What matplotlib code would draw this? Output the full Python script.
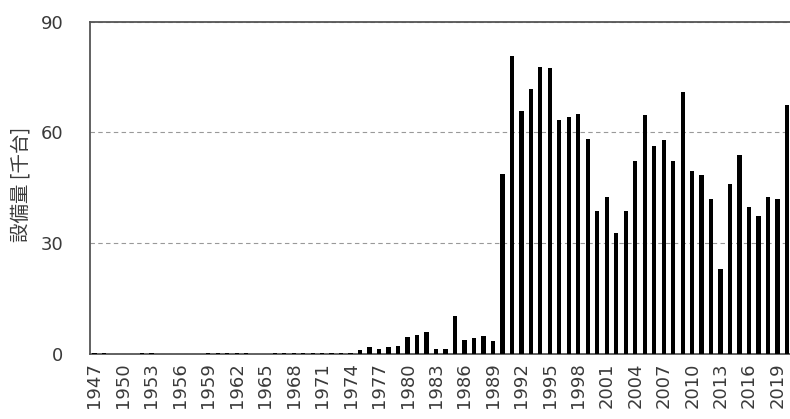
import matplotlib
matplotlib.use("Agg")
import matplotlib.pyplot as plt

years = list(range(1947, 2021))
values = [
    0.3, 0.3, 0, 0, 0, 0.3, 0.3, 0, 0, 0, 0, 0,          # 1947-1958
    0.3, 0.3, 0.3, 0.3, 0.3, 0, 0,                       # 1959-1965
    0.3, 0.3, 0.3, 0.3, 0.3, 0.3, 0.3, 0.3, 0.3,         # 1966-1974
    1.0, 1.9, 1.4, 1.9, 2.3, 4.5, 5.2, 6.0, 1.4, 1.4,    # 1975-1984
    10.2, 3.9, 4.2, 4.8, 3.6,                            # 1985-1989
    48.7, 80.6, 65.9, 71.7, 77.7, 77.4, 63.3, 64.2, 65.0, 58.3,  # 1990-1999
    38.8, 42.6, 32.9, 38.8, 52.3, 64.7, 56.3, 58.0, 52.3, 70.9,  # 2000-2009
    49.5, 48.4, 41.9, 23.0, 46.1, 54.0, 39.9, 37.4, 42.6, 41.9,  # 2010-2019
    67.5,                                                # 2020
]
xticks = list(range(1947, 2021, 3))
yticks = [0, 30, 60, 90]
ylabel = "設備量 [千台]"

W, H = 790, 419
fig = plt.figure(figsize=(W / 100, H / 100), dpi=100)
ax = fig.add_axes([89.7 / W, (H - 354) / H, (791 - 89.7) / W, 332.3 / H])

ax.bar(years, values, width=0.45, color="black", zorder=3)
ax.set_xlim(1946.5, 2020.42)
ax.set_ylim(0, 90)
ax.set_yticks(yticks)
ax.set_xticks(xticks)
ax.set_xticklabels([str(y) for y in xticks], rotation=90)
ax.yaxis.grid(True, linestyle=(0, (4, 3)), color="#999999", linewidth=0.8, zorder=0)
ax.tick_params(axis="both", length=0, labelsize=13, colors="#3a3a3a")
ax.tick_params(axis="y", pad=19)
ax.tick_params(axis="x", pad=6)
for s in ax.spines.values():
    s.set_color("#555555")
    s.set_linewidth(1.3)

ax.set_ylabel(ylabel, fontsize=14, color="#3a3a3a",
              family=["Noto Sans CJK JP", "DejaVu Sans"])
ax.yaxis.set_label_coords(-0.0823, 0.511)

fig.savefig("out.png", dpi=100)
